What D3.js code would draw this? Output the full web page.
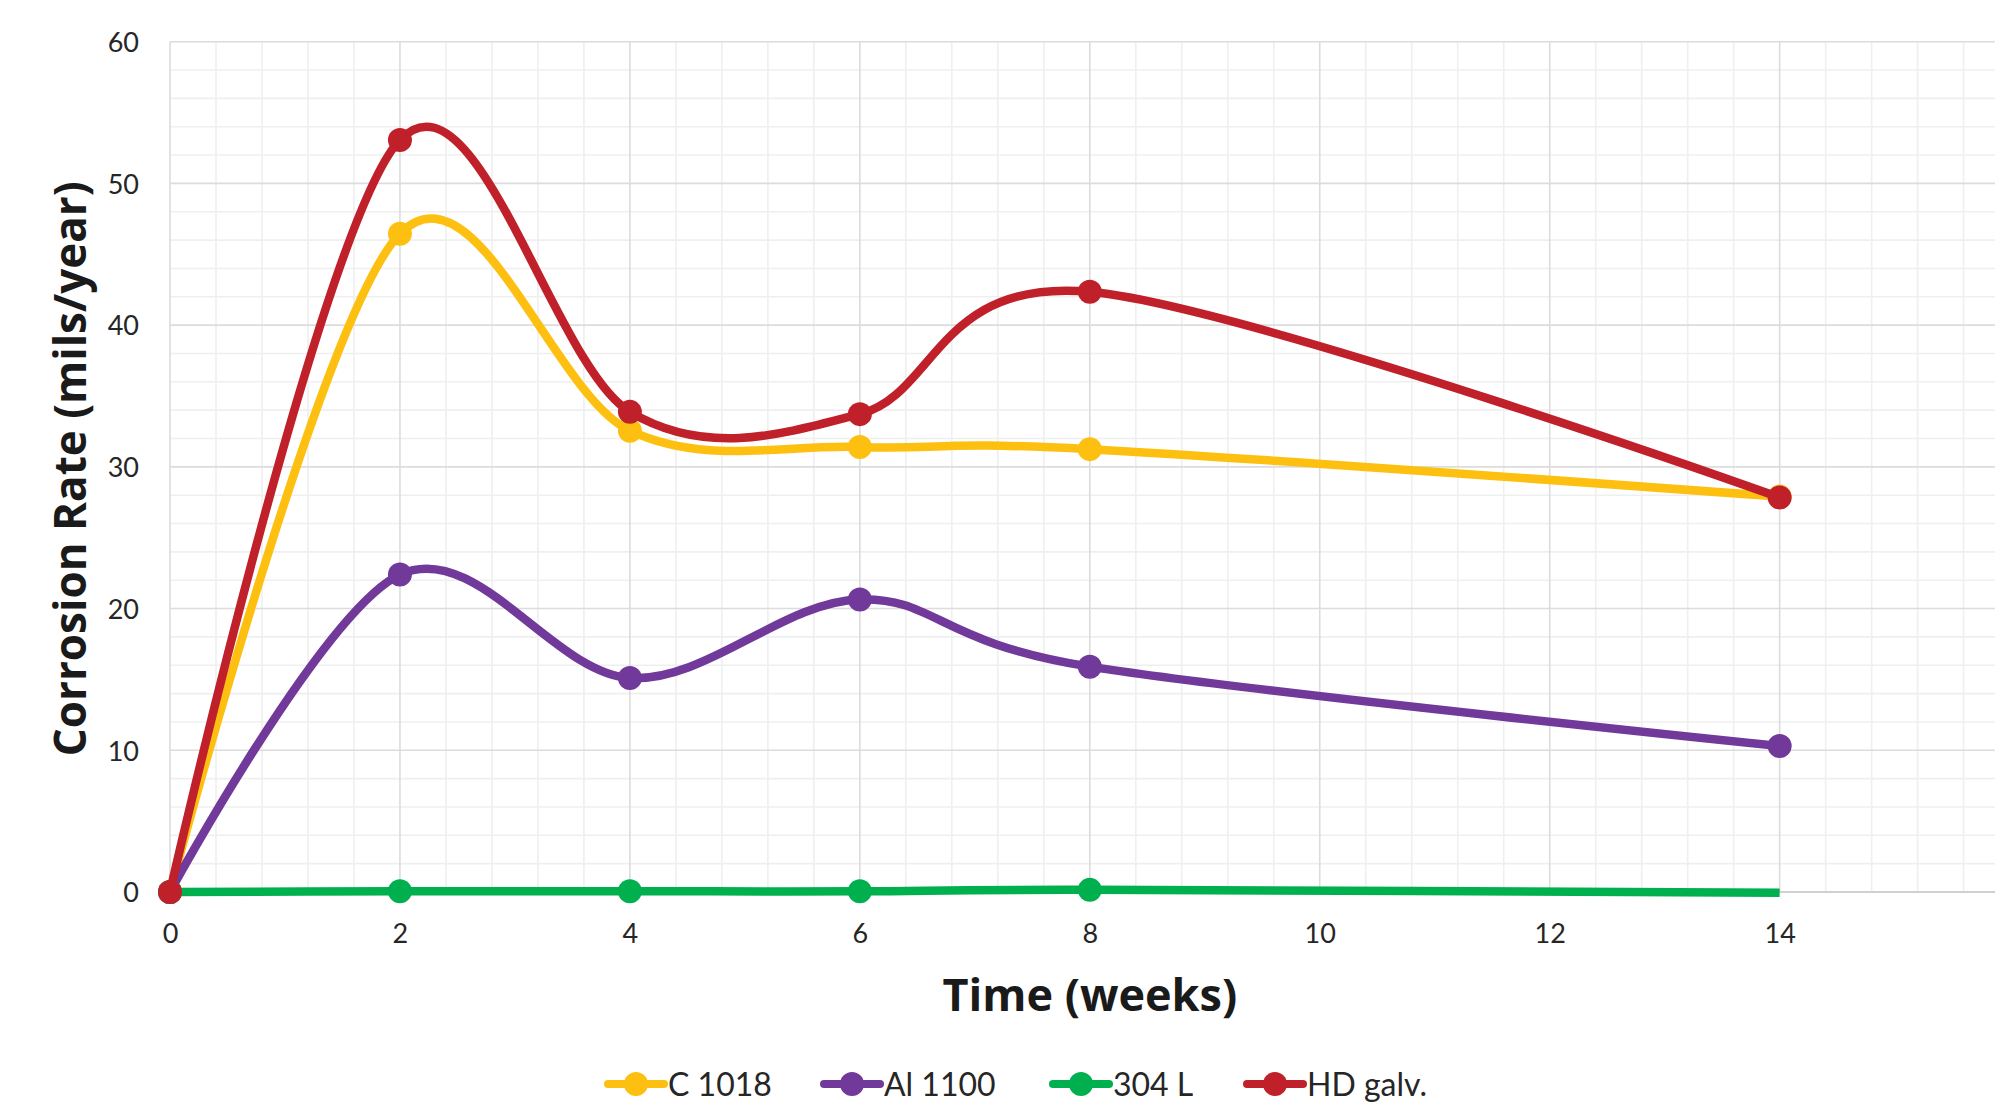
<!DOCTYPE html>
<html>
<head>
<meta charset="utf-8">
<script src="https://cdn.jsdelivr.net/npm/d3@7"></script>
<style>
  html, body { margin: 0; padding: 0; background: #fff; overflow: hidden; }
  svg { display: block; }
</style>
</head>
<body>
<svg id="chart" width="1995" height="1112"></svg>
<script>
// ---- data ----
const weeks = [0, 2, 4, 6, 8, 14];
const c1018 = [0, 46.45, 32.55, 31.4, 31.25, 27.9];
const al1100 = [0, 22.4, 15.1, 20.64, 15.9, 10.3];
const s304L = [0, 0.05, 0.05, 0.05, 0.15, -0.05];
const hdGalv = [0, 53.07, 33.88, 33.72, 42.35, 27.84];
const s304LMarkerShown = [true, true, true, true, true, false];
const seriesNames = ["C 1018", "Al 1100", "304 L", "HD galv."];
const xTickLabels = [0, 2, 4, 6, 8, 10, 12, 14];
const yTickLabels = [0, 10, 20, 30, 40, 50, 60];
const xTitle = "Time (weeks)";
const yTitle = "Corrosion Rate (mils/year)";

// ---- layout / style ----
const colors = ["#FDC010", "#70399A", "#00B04F", "#C0202A"];
const svg = d3.select("#chart");
const x = d3.scaleLinear().domain([0, 16]).range([170, 2009.6]);
const y = d3.scaleLinear().domain([0, 60]).range([892, 41.7]);
const plotRight = 1995;

const grid = svg.append("g");
// minor grid
const xMinor = d3.range(0, 16.001, 0.4).filter(v => Math.abs(v / 2 - Math.round(v / 2)) > 1e-6);
const yMinor = d3.range(0, 60.001, 2).filter(v => v % 10 !== 0);
grid.selectAll(".xm").data(xMinor).join("line")
  .attr("x1", d => x(d)).attr("x2", d => x(d))
  .attr("y1", y(0)).attr("y2", y(60))
  .attr("stroke", "#efefef").attr("stroke-width", 1.6);
grid.selectAll(".ym").data(yMinor).join("line")
  .attr("x1", x(0)).attr("x2", plotRight)
  .attr("y1", d => y(d)).attr("y2", d => y(d))
  .attr("stroke", "#efefef").attr("stroke-width", 1.6);
// major grid
const xMajor = d3.range(0, 16.001, 2);
grid.selectAll(".xM").data(xMajor).join("line")
  .attr("x1", d => x(d)).attr("x2", d => x(d))
  .attr("y1", y(0)).attr("y2", y(60))
  .attr("stroke", "#dcdcdc").attr("stroke-width", 1.6);
grid.selectAll(".yM").data(yTickLabels).join("line")
  .attr("x1", x(0)).attr("x2", plotRight)
  .attr("y1", d => y(d)).attr("y2", d => y(d))
  .attr("stroke", d => d === 0 ? "#d0d0d0" : "#dcdcdc").attr("stroke-width", d => d === 0 ? 2 : 1.6);

// axes (labels only)
const xAxis = d3.axisBottom(x).tickValues(xTickLabels).tickSize(0).tickPadding(0);
const gx = svg.append("g").attr("transform", `translate(0,${y(0)})`).call(xAxis);
gx.select(".domain").remove();
gx.selectAll("text").attr("dy", null).attr("y", 51)
  .attr("font-family", "Lato").attr("font-size", 27).attr("fill", "#262626");

const yAxis = d3.axisLeft(y).tickValues(yTickLabels).tickSize(0).tickPadding(0);
const gy = svg.append("g").attr("transform", `translate(139,0)`).call(yAxis);
gy.select(".domain").remove();
gy.selectAll("text").attr("x", 0).attr("dy", "0.36em")
  .attr("font-family", "Lato").attr("font-size", 27).attr("fill", "#262626");

// titles
svg.append("text").text(xTitle)
  .attr("x", (x(0) + x(16)) / 2).attr("y", 1011)
  .attr("text-anchor", "middle")
  .attr("font-family", "Open Sans").attr("font-weight", 700).attr("font-size", 45).attr("fill", "#1a1a1a");
svg.append("text").text(yTitle)
  .attr("transform", `translate(86,${(y(0) + y(60)) / 2 + 2}) rotate(-90)`)
  .attr("text-anchor", "middle")
  .attr("font-family", "Open Sans").attr("font-weight", 700).attr("font-size", 44).attr("fill", "#1a1a1a");

// series
const allSeries = [c1018, al1100, s304L, hdGalv];
const markerMasks = [null, null, s304LMarkerShown, null];
const line = d3.line().x(d => x(d[0])).y(d => y(d[1])).curve(d3.curveCardinal.tension(0));
allSeries.forEach((vals, i) => {
  const pts = weeks.map((w, j) => [w, vals[j], j]);
  const g = svg.append("g");
  g.append("path").datum(pts).attr("d", line)
    .attr("fill", "none").attr("stroke", colors[i]).attr("stroke-width", 8.5)
    .attr("stroke-linecap", "butt").attr("stroke-linejoin", "round");
  const mask = markerMasks[i];
  g.selectAll("circle").data(pts.filter(p => !mask || mask[p[2]])).join("circle")
    .attr("cx", d => x(d[0])).attr("cy", d => y(d[1])).attr("r", 12)
    .attr("fill", colors[i]);
});

// legend
const legendX = [636, 852, 1081, 1275];
const legend = svg.append("g");
seriesNames.forEach((name, i) => {
  const cx = legendX[i], cy = 1084;
  legend.append("line").attr("x1", cx - 28).attr("x2", cx + 28).attr("y1", cy).attr("y2", cy)
    .attr("stroke", colors[i]).attr("stroke-width", 8).attr("stroke-linecap", "round");
  legend.append("circle").attr("cx", cx).attr("cy", cy).attr("r", 12).attr("fill", colors[i]);
  legend.append("text").text(name).attr("x", cx + 32).attr("y", cy).attr("dy", "0.36em")
    .attr("font-family", "Lato").attr("font-size", 32).attr("fill", "#262626");
});
</script>
</body>
</html>
